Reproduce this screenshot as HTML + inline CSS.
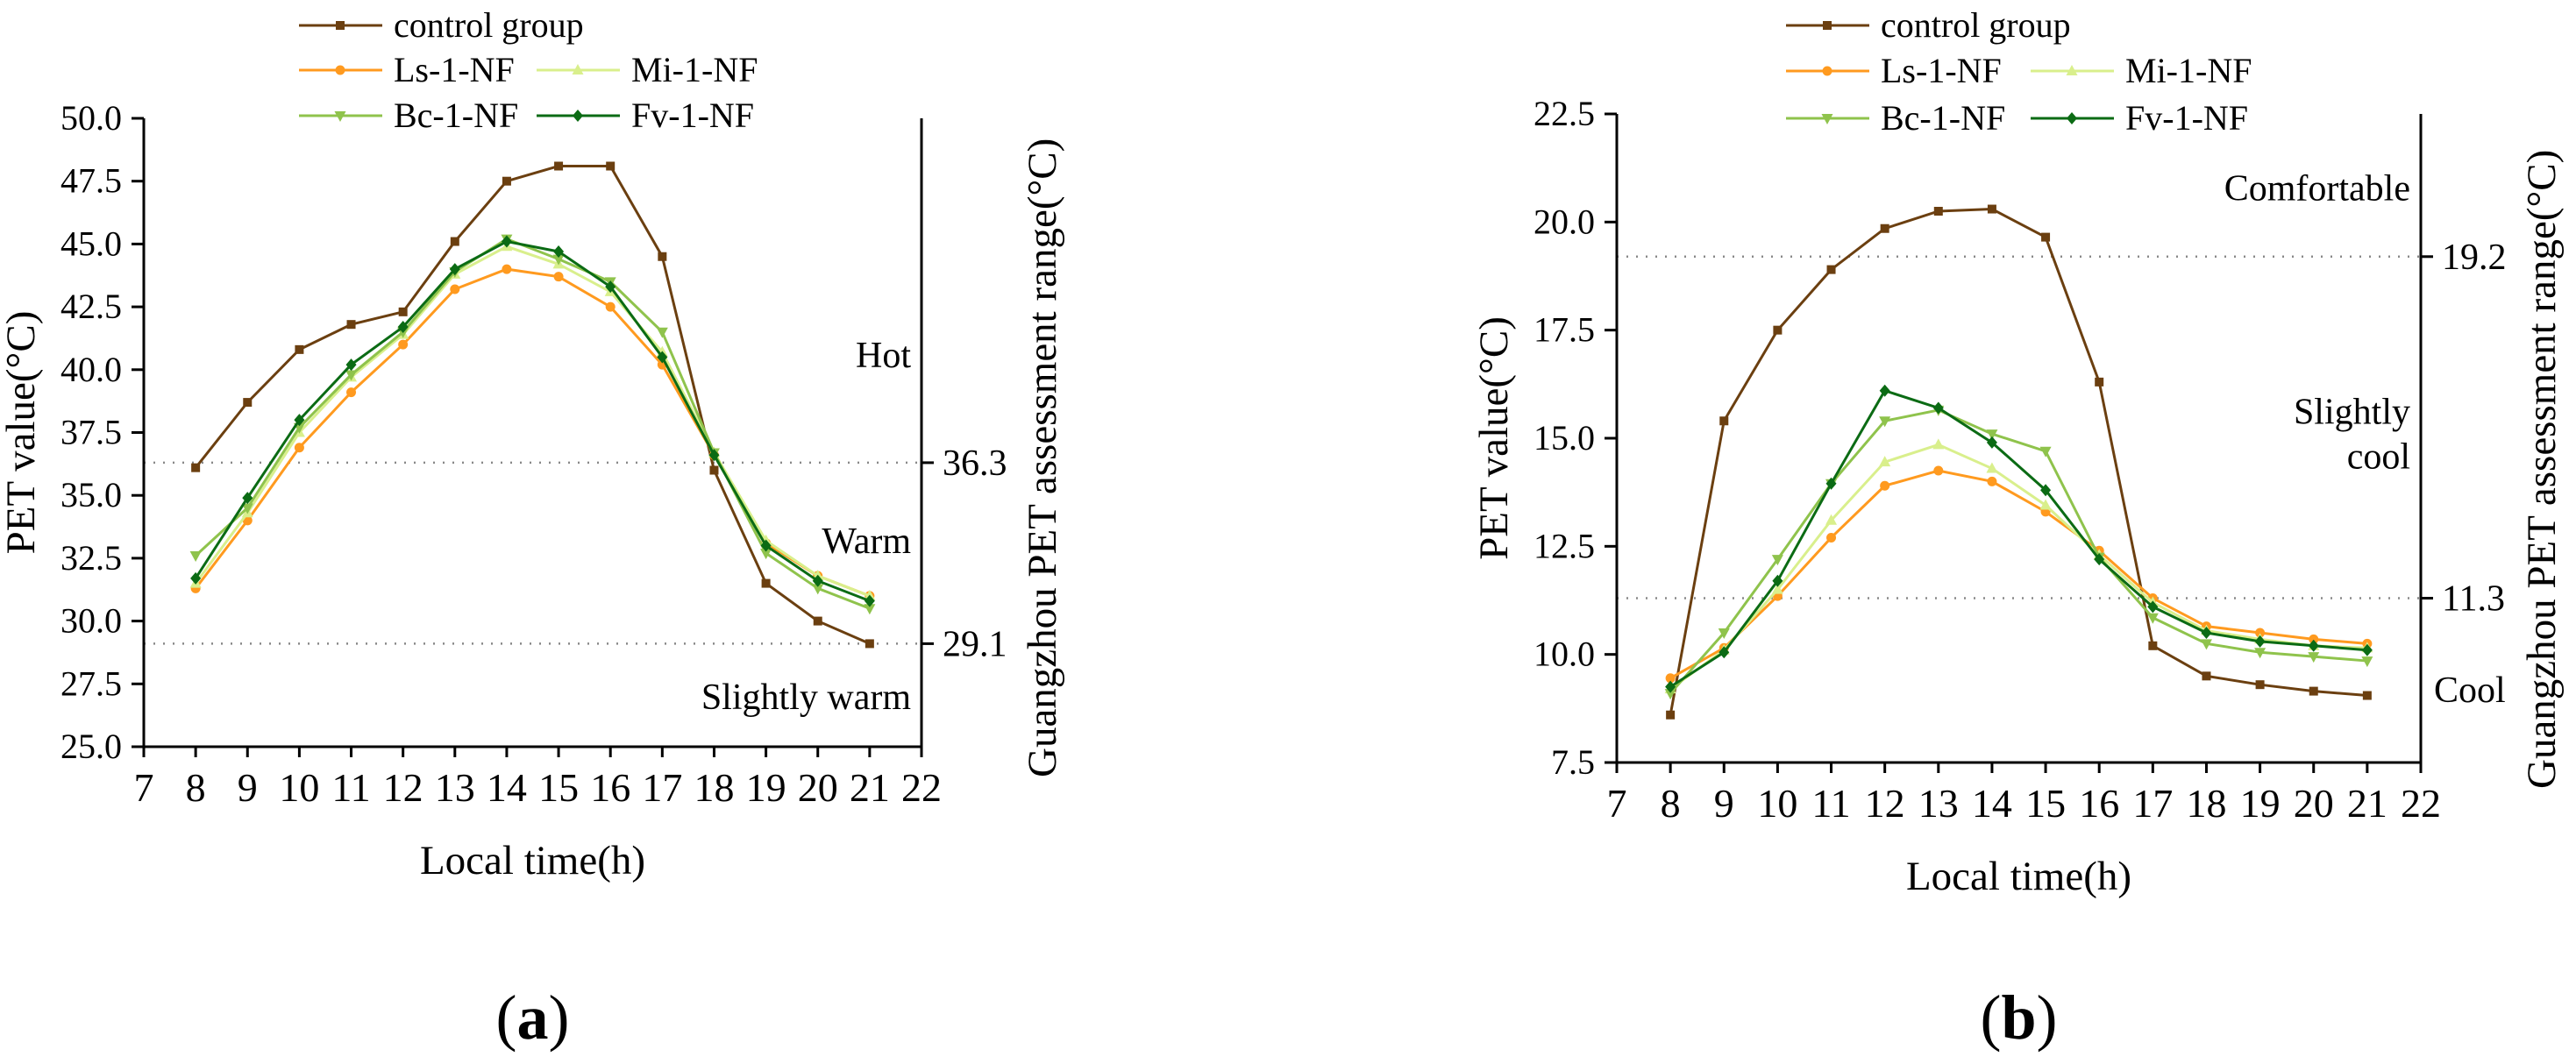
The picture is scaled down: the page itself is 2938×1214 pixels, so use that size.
<!DOCTYPE html>
<html><head><meta charset="utf-8">
<style>
html,body{margin:0;padding:0;background:#fff;}
svg{display:block;}
svg text{font-family:"Liberation Serif","Times New Roman",serif;}
</style></head>
<body>
<svg id="chart" width="2938" height="1214" viewBox="0 0 2938 1214" xmlns="http://www.w3.org/2000/svg" font-family="Liberation Serif, serif"></svg>
<script>
const hours = [8,9,10,11,12,13,14,15,16,17,18,19,20,21];
const seriesNames = ["control group","Ls-1-NF","Mi-1-NF","Bc-1-NF","Fv-1-NF"];
const aControl = [36.1,38.7,40.8,41.8,42.3,45.1,47.5,48.1,48.1,44.5,36.0,31.5,30.0,29.1];
const aLs = [31.3,34.0,36.9,39.1,41.0,43.2,44.0,43.7,42.5,40.2,36.6,33.1,31.8,31.0];
const aMi = [31.5,34.3,37.5,39.7,41.4,43.8,44.9,44.2,43.1,40.7,36.7,33.2,31.8,31.0];
const aBc = [32.6,34.5,37.7,39.8,41.5,43.9,45.2,44.4,43.5,41.5,36.7,32.7,31.3,30.5];
const aFv = [31.7,34.9,38.0,40.2,41.7,44.0,45.1,44.7,43.3,40.5,36.6,33.0,31.6,30.8];
const bControl = [8.6,15.4,17.5,18.9,19.85,20.25,20.3,19.65,16.3,10.2,9.5,9.3,9.15,9.05];
const bLs = [9.45,10.15,11.35,12.7,13.9,14.25,14.0,13.3,12.4,11.3,10.65,10.5,10.35,10.25];
const bMi = [9.2,10.1,11.5,13.1,14.45,14.85,14.3,13.45,12.3,11.2,10.55,10.35,10.2,10.15];
const bBc = [9.1,10.5,12.2,13.95,15.4,15.65,15.1,14.7,12.25,10.85,10.25,10.05,9.95,9.85];
const bFv = [9.25,10.05,11.7,13.95,16.1,15.7,14.9,13.8,12.2,11.1,10.5,10.3,10.2,10.1];
const xTicks = [7,8,9,10,11,12,13,14,15,16,17,18,19,20,21,22];
const aYTicks = [25.0,27.5,30.0,32.5,35.0,37.5,40.0,42.5,45.0,47.5,50.0];
const bYTicks = [7.5,10.0,12.5,15.0,17.5,20.0,22.5];
const aThresholds = [36.3,29.1];
const bThresholds = [19.2,11.3];
const aZones = [["Hot",40.1],["Warm",32.7],["Slightly warm",26.5]];
const bZones = [["Comfortable",20.5],["Slightly",15.33],["cool",14.3]];
const bOuterZones = [["Cool",8.9]];

const NS="http://www.w3.org/2000/svg";
const svg=document.getElementById('chart');
const colors=["#6b3f10","#ff9a1f","#d9ef8c","#8fc34c","#0b6b14"];
const markers=["square","circle","up","down","diamond"];
const FF="Liberation Serif, serif";
function mk(tag,attrs,parent){const e=document.createElementNS(NS,tag);for(const k in attrs)e.setAttribute(k,attrs[k]);if(tag==='text')e.setAttribute('font-family',FF);(parent||svg).appendChild(e);return e;}
function marker(g,type,x,y,c){
  let e;
  if(type==="square"){e=mk('rect',{x:x-5,y:y-5,width:10,height:10,fill:c},g);}
  else if(type==="circle"){e=mk('circle',{cx:x,cy:y,r:5.5,fill:c},g);}
  else if(type==="up"){e=mk('polygon',{points:`${x},${y-7} ${x+6.5},${y+5} ${x-6.5},${y+5}`,fill:c},g);}
  else if(type==="down"){e=mk('polygon',{points:`${x},${y+7} ${x+6.5},${y-5} ${x-6.5},${y-5}`,fill:c},g);}
  else {e=mk('polygon',{points:`${x},${y-7} ${x+6},${y} ${x},${y+7} ${x-6},${y}`,fill:c},g);}
  
  
}
function panel(p){
  const X=v=>p.x0+(v-7)/15*(p.x1-p.x0);
  const Y=v=>p.y1-(v-p.ymin)/(p.ymax-p.ymin)*(p.y1-p.y0);
  const g=mk('g',{});
  
  
  p.th.forEach(t=>{
    const l=mk('line',{x1:p.x0,x2:p.x1,y1:Y(t),y2:Y(t),stroke:"#888",'stroke-width':2.5,'stroke-dasharray':"2 9"},g);
    
    
    const tk=mk('line',{x1:p.x1,x2:p.x1+14,y1:Y(t),y2:Y(t),stroke:"#000",'stroke-width':3},g);
    
    
    const tl=mk('text',{x:p.x1+24,y:Y(t)+14,'font-size':42},g);
    tl.textContent=t.toFixed(1);
    
    
  });
  const ax=mk('path',{d:`M${p.x0},${p.y0} V${p.y1} H${p.x1} V${p.y0}`,fill:"none",stroke:"#000",'stroke-width':3},g);
  
  
  p.yt.forEach(v=>{
    const t=mk('line',{x1:p.x0-14,x2:p.x0,y1:Y(v),y2:Y(v),stroke:"#000",'stroke-width':3},g);
    
    
    const l=mk('text',{x:p.x0-25,y:Y(v)+13,'font-size':40,'text-anchor':'end'},g);
    l.textContent=v.toFixed(1);
    
    
  });
  xTicks.forEach(v=>{
    const t=mk('line',{x1:X(v),x2:X(v),y1:p.y1,y2:p.y1+12,stroke:"#000",'stroke-width':3},g);
    
    
    const l=mk('text',{x:X(v),y:p.y1+62,'font-size':46,'text-anchor':'middle'},g);
    l.textContent=v;
    
    
  });
  p.zones.forEach(z=>{
    const l=mk('text',{x:p.x1-12,y:Y(z[1]),'font-size':42,'text-anchor':'end'},g);
    l.textContent=z[0];
    
    
  });
  (p.outer||[]).forEach(z=>{
    const l=mk('text',{x:p.x1+15,y:Y(z[1]),'font-size':42,'text-anchor':'start'},g);
    l.textContent=z[0];
    
    
  });
  p.data.forEach((d,i)=>{
    const sg=mk('g',{},g);
    
    
    const pl=mk('polyline',{points:d.map((v,j)=>X(hours[j])+','+Y(v)).join(' '),fill:'none',stroke:colors[i],'stroke-width':3},sg);
    
    
    d.forEach((v,j)=>marker(sg,markers[i],X(hours[j]),Y(v),colors[i]));
  });
  const lg=mk('g',{},g);
  
  
  const pos=[[0,0],[0,1],[1,1],[0,2],[1,2]];
  pos.forEach((q,i)=>{
    const lx=q[0]?p.lc2:p.lc1, ly=p.lrows[q[1]];
    const e=mk('g',{},lg);
    
    
    mk('line',{x1:lx,x2:lx+95,y1:ly,y2:ly,stroke:colors[i],'stroke-width':3},e);
    marker(e,markers[i],lx+47,ly,colors[i]);
    const t=mk('text',{x:lx+108,y:ly+13,'font-size':40},e);
    t.textContent=seriesNames[i];
  });
  const yt=mk('text',{x:0,y:0,'font-size':47,'text-anchor':'middle',transform:`translate(${p.x0-125},${(p.y0+p.y1)/2}) rotate(-90)`},g);
  yt.textContent="PET value(°C)";
  
  
  const rt=mk('text',{x:0,y:0,'font-size':47,'text-anchor':'start',transform:`translate(${p.x1+153},${p.rtb}) rotate(-90)`},g);
  rt.textContent="Guangzhou PET assessment range(°C)";
  
  
  const xt=mk('text',{x:(p.x0+p.x1)/2,y:p.y1+145,'font-size':47,'text-anchor':'middle'},g);
  xt.textContent="Local time(h)";
  
  
  const cap=mk('text',{x:(p.x0+p.x1)/2,y:1185,'font-size':72,'text-anchor':'middle'},g);
  cap.innerHTML='(<tspan font-weight="bold">'+p.cap+'</tspan>)';
  
  
}
panel({name:'panel-a',x0:164,x1:1051,y0:135,y1:852,ymin:25,ymax:50,yt:aYTicks,th:aThresholds,zones:aZones,
  data:[aControl,aLs,aMi,aBc,aFv],lc1:341,lc2:612,lrows:[29,80,132],rtb:887,cap:'a'});
panel({name:'panel-b',x0:1844,x1:2761,y0:130,y1:870,ymin:7.5,ymax:22.5,yt:bYTicks,th:bThresholds,zones:bZones,outer:bOuterZones,
  data:[bControl,bLs,bMi,bBc,bFv],lc1:2037,lc2:2316,lrows:[29,81,135],rtb:900,cap:'b'});
</script>
</body></html>
